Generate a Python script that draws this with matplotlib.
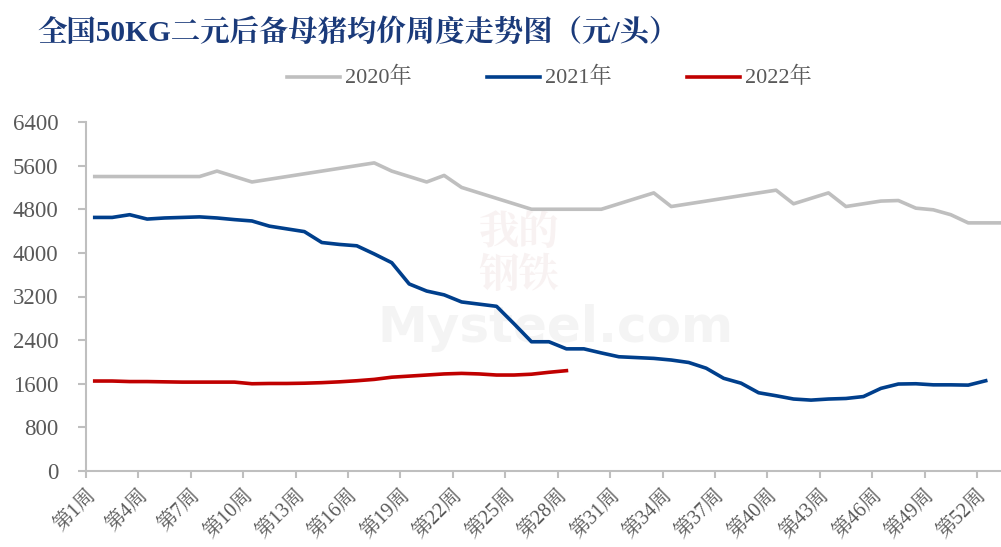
import matplotlib
matplotlib.use("Agg")
import matplotlib.pyplot as plt
import matplotlib.transforms as mtransforms
from matplotlib.lines import Line2D

# weekly prices (yuan per head)
p2020 = [5400, 5400, 5400, 5400, 5400, 5400, 5400, 5500, 5400, 5300,
         5350, 5400, 5450, 5500, 5550, 5600, 5650, 5500, 5400, 5300,
         5420, 5200, 5100, 5000, 4900, 4800, 4800, 4800, 4800, 4800,
         4900, 5000, 5100, 4850, 4900, 4950, 5000, 5050, 5100, 5150,
         4900, 5000, 5100, 4850, 4900, 4950, 4960, 4820, 4790, 4700,
         4550, 4550, 4550]
p2021 = [4650, 4650, 4700, 4620, 4640, 4650, 4660, 4640, 4610, 4585,
         4490, 4440, 4390, 4190, 4155, 4130, 3980, 3820, 3430, 3300,
         3230, 3100, 3060, 3020, 2700, 2370, 2370, 2240, 2240, 2165,
         2095, 2080, 2065, 2035, 1990, 1885, 1700, 1610, 1435, 1380,
         1320, 1300, 1320, 1330, 1365, 1515, 1595, 1600, 1580, 1580,
         1575, 1655]
p2022 = [1650, 1650, 1640, 1640, 1635, 1630, 1630, 1630, 1630, 1600,
         1605, 1605, 1610, 1620, 1635, 1655, 1680, 1720, 1740, 1760,
         1780, 1790, 1780, 1760, 1760, 1775, 1810, 1840]
series_names = ['2020年', '2021年', '2022年']
series_colors = ['#BFBFBF', '#003F8C', '#C00000']
label_weeks = list(range(1, 53, 3))
y_ticks = [0, 800, 1600, 2400, 3200, 4000, 4800, 5600, 6400]

serif = ['Liberation Serif', 'Noto Serif CJK SC', 'Noto Sans CJK SC']
txt_col = '#595959'

fig = plt.figure(figsize=(10.01, 5.47), dpi=100)
ax = fig.add_axes([86 / 1001, 76 / 547, 915 / 1001, 349 / 547])

for data, name, col in zip([p2020, p2021, p2022], series_names, series_colors):
    ax.plot(range(1, len(data) + 1), data, color=col, lw=2.6, label=name, zorder=3)

ax.set_xlim(0.5, 0.5 + 915 / 17.47)
ax.set_ylim(0, 6400)

ax.set_yticks(y_ticks)
ax.set_yticklabels([str(v) for v in y_ticks], family=serif, fontsize=16.5, color=txt_col)
ax.set_xticks([w - 0.5 for w in label_weeks])
ax.set_xticklabels([f'第{w}周' for w in label_weeks], family=serif, fontsize=14.5,
                   color=txt_col, rotation=45, ha='right', va='top',
                   rotation_mode='anchor')
offset = mtransforms.ScaledTranslation(11 / 100, -3 / 100, fig.dpi_scale_trans)
for lab in ax.get_xticklabels():
    lab.set_transform(lab.get_transform() + offset)

for s in ['top', 'right']:
    ax.spines[s].set_visible(False)
for s in ['left', 'bottom']:
    ax.spines[s].set_color('#BFBFBF')
    ax.spines[s].set_linewidth(1.5)
ax.tick_params(axis='both', colors='#BFBFBF', width=1.5, length=5, labelcolor=txt_col)
ax.tick_params(axis='y', length=6, pad=14)
ax.tick_params(axis='x', pad=6)

# faint watermark, kept behind the lines
ax.text(0.555, 0.4, 'Mysteel.com', fontsize=36, color='#F4F4F4', ha='center',
        va='center', family='DejaVu Sans', fontweight='bold', zorder=1,
        transform=fig.transFigure)
ax.text(0.518, 0.535, '我的\n钢铁', fontsize=29, color='#F8F2F2', ha='center',
        va='center', family='Noto Serif CJK SC', fontweight='bold', zorder=1,
        linespacing=1.0, transform=fig.transFigure)

fig.text(37 / 1001, 1 - 32 / 547, '全国50KG二元后备母猪均价周度走势图（元/头）',
         family=serif, fontsize=21.2, fontweight='bold', color='#1A3A7A',
         ha='left', va='center')

# legend: lines and labels placed like the reference
for i, (name, col) in enumerate(zip(series_names, series_colors)):
    x0 = (287 + 200 * i) / 1001
    y0 = 1 - 77 / 547
    fig.add_artist(Line2D([x0, x0 + 53 / 1001], [y0, y0], color=col, lw=2.6,
                          transform=fig.transFigure))
    fig.text(x0 + 58 / 1001, y0, name, family=serif, fontsize=16, color=txt_col,
             ha='left', va='center')

fig.savefig('out.png', dpi=100)
